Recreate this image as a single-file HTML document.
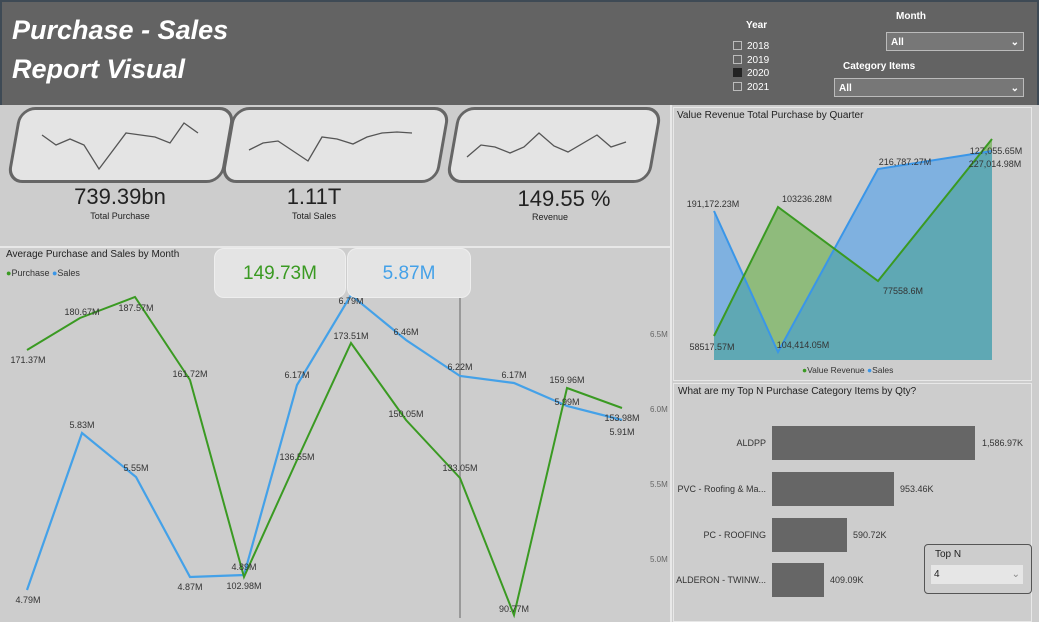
<!DOCTYPE html>
<html><head><meta charset="utf-8"><style>
*{margin:0;padding:0;box-sizing:border-box}
body{width:1039px;height:622px;background:#cdcdcd;font-family:"Liberation Sans",sans-serif;position:relative;overflow:hidden}
.abs{position:absolute}
#hdr{left:0;top:0;width:1039px;height:105px;background:#636363;border:2px solid #3e4a55;border-bottom:none}
.title{left:12px;color:#fff;font-weight:bold;font-style:italic;font-size:27px}
.card{position:absolute;top:107px;height:76px;background:#e4e4e4;border:3px solid #666;border-radius:16px;transform:skewX(-10deg)}
.kv{position:absolute;font-size:22px;color:#222;text-align:center}
.kl{position:absolute;font-size:9px;color:#222;text-align:center}
.sm{font-size:9px;fill:#333}
</style></head><body>
<div id="hdr" class="abs"></div>
<div class="abs title" style="top:15px">Purchase - Sales</div>
<div class="abs title" style="top:54px">Report Visual</div>
<div class="abs" style="left:746px;top:20px;color:#fff;font-weight:bold;font-size:10px">Year</div>
<div class="abs" style="left:733px;top:40px;color:#fff;font-size:10px;line-height:13.5px">
<div><span style="display:inline-block;width:9px;height:9px;border:1px solid #bbb;margin-right:5px;vertical-align:-1px"></span>2018</div>
<div><span style="display:inline-block;width:9px;height:9px;border:1px solid #bbb;margin-right:5px;vertical-align:-1px"></span>2019</div>
<div><span style="display:inline-block;width:9px;height:9px;background:#222;margin-right:5px;vertical-align:-1px"></span>2020</div>
<div><span style="display:inline-block;width:9px;height:9px;border:1px solid #bbb;margin-right:5px;vertical-align:-1px"></span>2021</div></div>
<div class="abs" style="left:896px;top:11px;color:#fff;font-weight:bold;font-size:10px">Month</div>
<div class="abs" style="left:886px;top:32px;width:138px;height:19px;border:1px solid #bbb;background:#777;color:#fff;font-size:10px;font-weight:bold;padding:4px 4px">All<span style="float:right">&#8964;</span></div>
<div class="abs" style="left:843px;top:61px;color:#fff;font-weight:bold;font-size:10px">Category Items</div>
<div class="abs" style="left:834px;top:78px;width:190px;height:19px;border:1px solid #bbb;background:#777;color:#fff;font-size:10px;font-weight:bold;padding:4px 4px">All<span style="float:right">&#8964;</span></div>

<div class="card" style="left:13px;width:216px"></div>
<div class="card" style="left:227px;width:217px"></div>
<div class="card" style="left:452px;width:204px"></div>
<svg class="abs" style="left:0;top:0" width="670" height="200"><g fill="none" stroke="#555" stroke-width="1.3">
<polyline points="42,135 56,145 70,139 84,145 99,169 126,133 155,137 170,143 184,123 198,133"/>
<polyline points="249,150 263,143 278,141 308,161 322,137 337,139 353,144 367,137 382,133 397,132 412,133"/>
<polyline points="467,157 481,145 495,147 510,153 524,147 539,133 554,146 568,152 597,135 611,147 626,142"/></g></svg>
<div class="kv" style="left:40px;width:160px;top:184px">739.39bn</div>
<div class="kl" style="left:40px;width:160px;top:211px">Total Purchase</div>
<div class="kv" style="left:234px;width:160px;top:184px">1.11T</div>
<div class="kl" style="left:234px;width:160px;top:211px">Total Sales</div>
<div class="kv" style="left:484px;width:160px;top:186px">149.55 %</div>
<div class="kl" style="left:470px;width:160px;top:212px">Revenue</div>

<div class="abs" style="left:0;top:246px;width:671px;height:2px;background:#e8e8e8"></div>
<div class="abs" style="left:670px;top:105px;width:2px;height:517px;background:#e8e8e8"></div>
<div class="abs" style="left:6px;top:249px;font-size:10px;color:#222">Average Purchase and Sales by Month</div>
<div class="abs" style="left:6px;top:268px;font-size:9px;color:#333"><span style="color:#3a9a22">&#9679;</span>Purchase <span style="color:#3a96e8">&#9679;</span>Sales</div>
<svg class="abs" style="left:0;top:0" width="672" height="622">
<line x1="460" y1="295" x2="460" y2="618" stroke="#888" stroke-width="1.5"/>
<polyline fill="none" stroke="#44a1e8" stroke-width="2.2" points="27,590 82,433 136,477 190,577 244,575 297,385 351,295 406,340 460,376 514,383 567,406 622,420"/>
<polyline fill="none" stroke="#3a9a22" stroke-width="2" points="27,350 80,318 135,297 190,380 244,577 297,460 351,343 406,420 460,478 514,615 567,388 622,408"/>
<g class="sm" text-anchor="middle">
<text x="28" y="363">171.37M</text><text x="82" y="315">180.67M</text><text x="136" y="311">187.57M</text><text x="190" y="377">161.72M</text>
<text x="244" y="589">102.98M</text><text x="297" y="460">136.55M</text><text x="351" y="339">173.51M</text><text x="406" y="417">150.05M</text>
<text x="460" y="471">133.05M</text><text x="514" y="612">90.77M</text><text x="567" y="383">159.96M</text><text x="622" y="421">153.98M</text>
<text x="28" y="603">4.79M</text><text x="82" y="428">5.83M</text><text x="136" y="471">5.55M</text><text x="190" y="590">4.87M</text>
<text x="244" y="570">4.89M</text><text x="297" y="378">6.17M</text><text x="351" y="304">6.79M</text><text x="406" y="335">6.46M</text>
<text x="460" y="370">6.22M</text><text x="514" y="378">6.17M</text><text x="567" y="405">5.99M</text><text x="622" y="435">5.91M</text>
</g>
<g font-size="8" fill="#666"><text x="650" y="337">6.5M</text><text x="650" y="412">6.0M</text><text x="650" y="487">5.5M</text><text x="650" y="562">5.0M</text></g>
</svg>
<div class="abs" style="left:214px;top:248px;width:132px;height:50px;background:#e4e4e4;border:1px solid #eee;border-radius:10px;color:#3a9a22;font-size:19px;text-align:center;line-height:50px">149.73M</div>
<div class="abs" style="left:347px;top:248px;width:124px;height:50px;background:#e4e4e4;border:1px solid #eee;border-radius:10px;color:#44a1e8;font-size:19px;text-align:center;line-height:50px">5.87M</div>

<div class="abs" style="left:673px;top:107px;width:359px;height:274px;border:1px solid #e8e8e8"></div>
<div class="abs" style="left:677px;top:110px;font-size:10px;color:#222">Value Revenue Total Purchase by Quarter</div>
<svg class="abs" style="left:0;top:0" width="1039" height="622">
<defs><clipPath id="rv"><polygon points="714,336 778,207 878,281 992,139 992,360 714,360"/></clipPath></defs>
<polygon fill="#8fbb7c" points="714,336 778,207 878,281 992,139 992,360 714,360"/>
<polygon fill="#7fb1e0" points="714,211 778,352 878,169 992,151 992,360 714,360"/>
<polygon fill="#5fa8b4" clip-path="url(#rv)" points="714,211 778,352 878,169 992,151 992,360 714,360"/>
<polyline fill="none" stroke="#3a96e8" stroke-width="2" points="714,211 778,352 878,169 992,151"/>
<polyline fill="none" stroke="#3a9a22" stroke-width="2" points="714,336 778,207 878,281 992,139"/>
<g class="sm" text-anchor="middle"><text x="713" y="207">191,172.23M</text><text x="807" y="202">103236.28M</text><text x="905" y="165">216,787.27M</text>
<text x="996" y="154">127,055.65M</text><text x="995" y="167">227,014.98M</text><text x="712" y="350">58517.57M</text><text x="803" y="348">104,414.05M</text><text x="903" y="294">77558.6M</text></g>
<g font-size="8.5" fill="#333"><text x="802" y="373"><tspan fill="#3a9a22">&#9679;</tspan>Value Revenue <tspan fill="#3a96e8">&#9679;</tspan>Sales</text></g>
</svg>

<div class="abs" style="left:673px;top:383px;width:359px;height:239px;border:1px solid #e8e8e8"></div>
<div class="abs" style="left:678px;top:386px;font-size:10px;color:#222">What are my Top N Purchase Category Items by Qty?</div>
<div class="abs" style="left:772px;top:426px;width:203px;height:34px;background:#666"></div>
<div class="abs" style="left:772px;top:472px;width:122px;height:34px;background:#666"></div>
<div class="abs" style="left:772px;top:518px;width:75px;height:34px;background:#666"></div>
<div class="abs" style="left:772px;top:563px;width:52px;height:34px;background:#666"></div>
<svg class="abs" style="left:0;top:0" width="1039" height="622"><g class="sm" font-size="8">
<text x="766" y="446" text-anchor="end">ALDPP</text><text x="766" y="492" text-anchor="end">PVC - Roofing &amp; Ma...</text>
<text x="766" y="538" text-anchor="end">PC - ROOFING</text><text x="766" y="583" text-anchor="end">ALDERON - TWINW...</text>
<text x="982" y="446">1,586.97K</text><text x="900" y="492">953.46K</text><text x="853" y="538">590.72K</text><text x="830" y="583">409.09K</text></g></svg>
<div class="abs" style="left:924px;top:544px;width:108px;height:50px;border:1px solid #555;border-radius:4px"></div>
<div class="abs" style="left:935px;top:549px;font-size:10px;color:#222">Top N</div>
<div class="abs" style="left:931px;top:565px;width:92px;height:19px;background:#e6e6e6;font-size:10px;color:#222;padding:4px 3px">4<span style="float:right;color:#888">&#8964;</span></div>
</body></html>
